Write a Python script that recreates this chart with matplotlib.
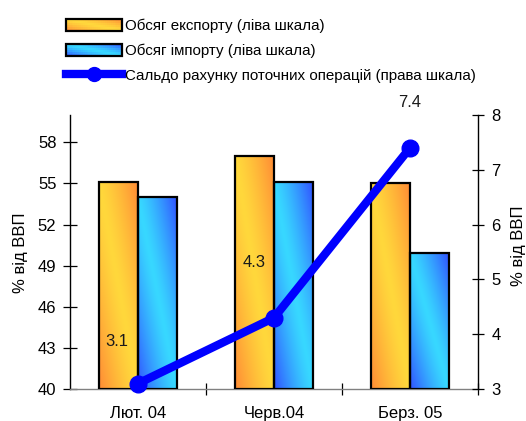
import numpy as np
import matplotlib
matplotlib.use("Agg")
import matplotlib.pyplot as plt
from matplotlib.patches import Rectangle
from matplotlib.lines import Line2D
from matplotlib.legend_handler import HandlerBase
from matplotlib.colors import to_rgb

# --- data -------------------------------------------------------------
categories = ["Лют. 04", "Черв.04", "Берз. 05"]
exports = [55.1, 57.0, 55.0]        # % of GDP, left scale
imports = [54.0, 55.1, 49.9]        # % of GDP, left scale
current_account = [3.1, 4.3, 7.4]   # % of GDP, right scale

series_names = [
    "Обсяг експорту (ліва шкала)",
    "Обсяг імпорту (ліва шкала)",
    "Сальдо рахунку поточних операцій (права шкала)",
]
left_ticks = [40, 43, 46, 49, 52, 55, 58]
right_ticks = [3, 4, 5, 6, 7, 8]
y_label = "% від ВВП"

# label offsets (points) for the balance values
label_offsets = [(-15, 30), (-14, 40), (0, 33)]

# --- style ------------------------------------------------------------
plt.rcParams["font.family"] = ["Liberation Sans", "DejaVu Sans"]
FS = 12
LEG_FS = 10.9
EXP_MID, EXP_EDGE = "#FFD83C", "#FF8A35"
IMP_MID, IMP_EDGE = "#38D8FF", "#3150FF"
LINE_COLOR = "#0000FF"


def diag_gradient(mid, edge, ny=60, nx=30):
    """Diagonal gradient: mid colour along the TL-BR diagonal, edge colour at TR/BL corners."""
    u = (np.arange(nx) + 0.5) / nx
    v = (np.arange(ny) + 0.5) / ny
    U, V = np.meshgrid(u, v)
    s = np.clip(np.abs(U + V - 1.0), 0, 1) ** 1.3
    m = np.array(to_rgb(mid))
    e = np.array(to_rgb(edge))
    img = m[None, None, :] * (1 - s[..., None]) + e[None, None, :] * s[..., None]
    return img  # row 0 = bottom (origin='lower')


class GradientPatchHandler(HandlerBase):
    def __init__(self, mid, edge):
        super().__init__()
        self.mid, self.edge = mid, edge

    def create_artists(self, legend, orig_handle, xdescent, ydescent,
                       width, height, fontsize, trans):
        nx, ny = 30, 6
        img = diag_gradient(self.mid, self.edge, ny=ny, nx=nx)
        arts = []
        x0, y0 = -xdescent, -ydescent
        for j in range(ny):
            for i in range(nx):
                arts.append(Rectangle((x0 + i * width / nx, y0 + j * height / ny),
                                      width / nx * 1.05, height / ny * 1.05,
                                      facecolor=img[j, i], edgecolor="none",
                                      lw=0, transform=trans))
        arts.append(Rectangle((x0, y0), width, height, fill=False,
                              edgecolor="black", lw=1.6, transform=trans))
        return arts


W, H = 526, 421
fig = plt.figure(figsize=(W / 100, H / 100), dpi=100)
ax_l, ax_r, ax_b, ax_t = 70, 478, 389, 115
ax = fig.add_axes([ax_l / W, 1 - ax_b / H, (ax_r - ax_l) / W, (ax_b - ax_t) / H])
ax2 = ax.twinx()

x = np.arange(len(categories))
bw = 0.286

# bars with gradient fill
for xi, val in zip(x, exports):
    x0 = xi - bw
    ax.imshow(diag_gradient(EXP_MID, EXP_EDGE), extent=[x0, x0 + bw, 40, val],
              origin="lower", aspect="auto", zorder=2, interpolation="bilinear")
    ax.add_patch(Rectangle((x0, 40), bw, val - 40, fill=False,
                           edgecolor="black", lw=1.6, zorder=3))
for xi, val in zip(x, imports):
    x0 = xi
    ax.imshow(diag_gradient(IMP_MID, IMP_EDGE), extent=[x0, x0 + bw, 40, val],
              origin="lower", aspect="auto", zorder=2, interpolation="bilinear")
    ax.add_patch(Rectangle((x0, 40), bw, val - 40, fill=False,
                           edgecolor="black", lw=1.6, zorder=3))
ax.set_xlim(-0.5, len(categories) - 0.5)
ax.set_ylim(40, 60)
ax2.set_ylim(3, 8)

# current account balance line
ax2.plot(x, current_account, color=LINE_COLOR, lw=6, marker="o", ms=12,
         solid_capstyle="round", clip_on=False, zorder=5)
for xi, val, off in zip(x, current_account, label_offsets):
    ax2.annotate(f"{val:.1f}", (xi, val), xytext=off, textcoords="offset points",
                 ha="center", va="center", fontsize=FS, color="#1a1a1a")

# axes styling
for a in (ax, ax2):
    a.spines["top"].set_visible(False)
ax.spines["right"].set_visible(False)
ax2.spines["left"].set_visible(False)
ax2.spines["bottom"].set_visible(False)
ax.spines["bottom"].set_color("#808080")
ax.spines["bottom"].set_linewidth(1.0)
ax.spines["left"].set_linewidth(1.0)
ax2.spines["right"].set_linewidth(1.0)

ax.set_yticks(left_ticks)
ax2.set_yticks(right_ticks)
ax.tick_params(axis="y", direction="inout", length=9.5, width=0.9, pad=5,
               labelsize=FS, colors="black")
ax2.tick_params(axis="y", direction="inout", length=9, width=0.9, pad=5,
                labelsize=FS, colors="black")

ax.set_xticks(x)
ax.set_xticklabels(categories)
ax.set_xticks(np.arange(0.5, len(categories)), minor=True)
ax.tick_params(axis="x", which="major", length=0, pad=12, labelsize=FS)
ax.tick_params(axis="x", which="minor", direction="inout", length=8,
               width=0.9, color="black")

fig.text(21 / W, 1 - 253 / H, y_label, rotation=90, ha="center", va="center",
         fontsize=FS)
fig.text(518 / W, 1 - 246 / H, y_label, rotation=90, ha="center", va="center",
         fontsize=FS)

# legend
h_exp = Rectangle((0, 0), 1, 1)
h_imp = Rectangle((0, 0), 1, 1)
h_line = Line2D([], [], color=LINE_COLOR, lw=6, marker="o", ms=10)
fig.legend([h_exp, h_imp, h_line], series_names,
           handler_map={h_exp: GradientPatchHandler(EXP_MID, EXP_EDGE),
                        h_imp: GradientPatchHandler(IMP_MID, IMP_EDGE)},
           loc="upper left", bbox_to_anchor=(66 / W, 1 - 19 / H),
           frameon=False, borderpad=0, borderaxespad=0, numpoints=1,
           handlelength=3.7, handleheight=0.85, handletextpad=0.22,
           labelspacing=0.68, fontsize=LEG_FS)

fig.savefig("out.png", dpi=100)
